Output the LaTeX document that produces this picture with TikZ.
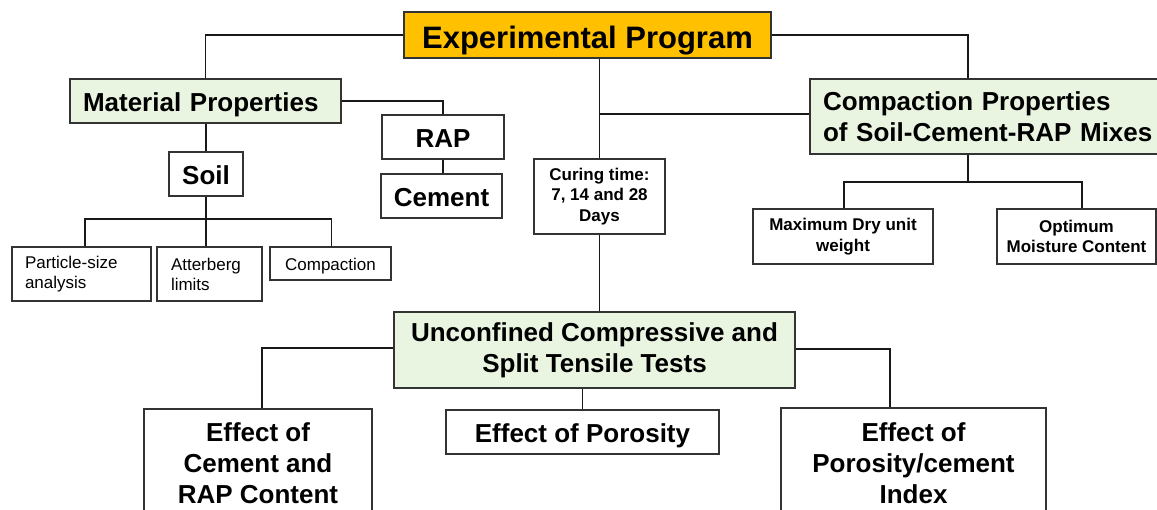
\documentclass[tikz,border=0pt]{standalone}
\usepackage{fontspec}
\setmainfont{Liberation Sans}
\definecolor{progfill}{HTML}{FFC000}
\definecolor{greenfill}{HTML}{E9F5E1}
\definecolor{boxline}{HTML}{333333}
\begin{document}
\begin{tikzpicture}[x=1pt,y=-1pt,
  box/.style={draw=boxline,line width=1.3pt,rectangle,inner sep=0pt,fill=white,text=black},
  big/.style={font=\fontsize{26}{31}\selectfont\bfseries},
  huge/.style={font=\fontsize{31}{37}\selectfont\bfseries},
  smallb/.style={font=\fontsize{17}{20.5}\selectfont\bfseries},
  smallr/.style={font=\fontsize{17}{20}\selectfont},
  oneline/.style={text height=20.6pt,text depth=0pt},
  green/.style={fill=greenfill},
  conn/.style={draw=black!90,line width=1.6pt}]
\useasboundingbox (0,0) rectangle (1157,510);
% nodes
\node[box,huge,fill=progfill,minimum width=367pt,minimum height=46pt,text height=28pt,text depth=0pt] (exp) at (587.5,35) {Experimental Program};
\node[box,big,green,oneline,minimum height=44pt,inner xsep=13pt,text width=245pt,align=left] (mat) at (205.5,101) {Material Properties};
\node[box,big,oneline,minimum width=122pt,minimum height=44pt] (rap) at (443,137) {RAP};
\node[box,big,oneline,minimum width=121pt,minimum height=44pt] (cem) at (441.5,196) {Cement};
\node[box,big,oneline,minimum width=74pt,minimum height=44pt] (soil) at (206,174) {Soil};
\node[box,smallr,minimum height=54pt,inner xsep=13pt,text width=113pt,align=left] (psa) at (81.5,274) {Particle-size\\analysis};
\node[box,smallr,minimum height=54pt,inner xsep=14pt,text width=77pt,align=left] (att) at (209.5,274) {Atterberg\\limits};
\node[box,smallr,minimum width=121pt,minimum height=33pt,text height=14.5pt,text depth=0pt] (comp) at (330.5,263.5) {Compaction};
\node[box,smallb,minimum width=131pt,minimum height=75pt,align=center] (cur) at (599.5,196.5) {Curing time:\\7, 14 and 28\\Days};
\node[box,big,green,minimum height=75pt,inner xsep=13pt,text width=334pt,align=left] (cp) at (990,116.5) {Compaction Properties\\of Soil-Cement-RAP Mixes};
\node[box,smallb,minimum width=180pt,minimum height=55pt,align=center] (mdu) at (843,236.5) {Maximum Dry unit\\weight};
\node[box,smallb,minimum width=159pt,minimum height=55pt,align=center] (omc) at (1076.5,236.5) {Optimum\\Moisture Content};
\node[box,big,green,minimum width=401pt,minimum height=76pt,align=center] (ucs) at (594.5,350) {Unconfined Compressive and\\Split Tensile Tests};
\node[box,big,minimum width=228pt,minimum height=108pt,align=center] (ec) at (258,463) {Effect of\\Cement and\\RAP Content};
\node[box,big,oneline,minimum width=273pt,minimum height=44pt] (ep) at (582.5,432) {Effect of Porosity};
\node[box,big,minimum width=265pt,minimum height=110pt,align=center] (epc) at (913.5,463) {Effect of\\Porosity/cement\\Index};
% hubs and attachment points
\coordinate (sh) at (206,219);
\coordinate (ch) at (968,182);
\coordinate (cpw) at ([yshift=2.5pt]cp.west);
\coordinate (ucsw) at ([yshift=2pt]ucs.west);
\coordinate (ucse) at ([yshift=1pt]ucs.east);
% connectors
\draw[conn] (exp.west) -| (mat.north);
\draw[conn] (mat.east) -| (rap.north);
\draw[conn] (rap.south) -- (rap.south |- cem.north);
\draw[conn] (soil.north |- mat.south) -- (soil.north);
\draw[conn] (soil.south) -- (sh);
\draw[conn] (sh) -| ([xshift=3.5pt]psa.north);
\draw[conn] (sh) -| ([xshift=1pt]comp.north);
\draw[conn] (sh) -- (sh |- att.north);
\draw[conn] (exp.east) -| ([xshift=-22pt]cp.north);
\draw[conn] (cur.north |- exp.south) -- (cur.north);
\draw[conn] (cur.north |- cpw) -- (cpw);
\draw[conn] ([xshift=-22pt]cp.south) -- (ch);
\draw[conn] (ch) -| ([xshift=1pt]mdu.north);
\draw[conn] (ch) -| ([xshift=5.5pt]omc.north);
\draw[conn] (cur.south) -- (cur.south |- ucs.north);
\draw[conn] (ucsw) -| ([xshift=4pt]ec.north);
\draw[conn] (ep.north |- ucs.south) -- (ep.north);
\draw[conn] (ucse) -| ([xshift=-23.5pt]epc.north);
\end{tikzpicture}
\end{document}
